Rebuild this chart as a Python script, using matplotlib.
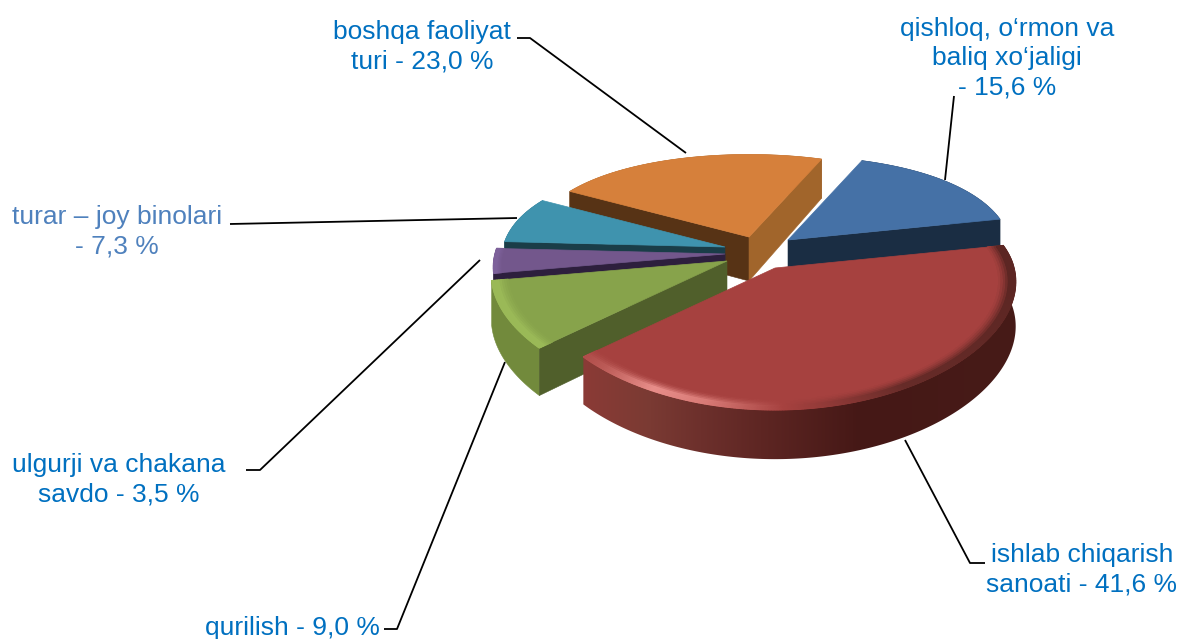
import numpy as np
import matplotlib
matplotlib.use("Agg")
import matplotlib.pyplot as plt
from matplotlib.colors import to_rgb
from matplotlib.patches import Polygon

plt.rcParams['font.family'] = ['Liberation Sans', 'DejaVu Sans']

# shares, clockwise from the first slice
names = ["qishloq", "ishlab", "qurilish", "ulgurji", "turar", "boshqa"]
values = [15.6, 41.6, 9.0, 3.5, 7.3, 23.0]

top_colors = ["#4571a6", "#a6413f", "#87a34b", "#73578c", "#3f93ae", "#d6803b"]
# None = that cut face looks away from the viewer
start_face = [None, None, "#505f2b", "#2d1f3d", "#1a3d48", "#573315"]
end_face = ["#1a2d43", None, None, None, None, "#a1652b"]
rim_colors = ["#1a2d43", "#481c1a", "#728a3c", "#5a4570", "#2c6a80", "#a1652b"]

# where each slice's tip ends up after exploding (pixels) and its radius
tips = [(788, 240), (775, 268), (727, 261), (725, 254), (725, 247), (749, 237)]
radius = [222, 239, 234, 230, 222, 218]
bevel = [0, 1, 1, 0.5, 0, 0]

START = 22.0
DEPTH = 44.0

# draw back slices first
order = [5, 0, 4, 3, 2, 1]

fig = plt.figure(figsize=(11.81, 6.39), dpi=100)
ax = fig.add_axes([0, 0, 1, 1])


def project(i, t, frac=1.0, drop=0.0):
    a = np.radians(t)
    s = 1 - 0.12 * np.cos(a)
    k = 0.48 - 0.05 * np.cos(a)
    r = radius[i] * frac * s
    d = drop * (1 - 0.12 * np.cos(a) * frac)
    return tips[i][0] + r * np.sin(a), tips[i][1] - k * r * np.cos(a) + d


def mix(c1, c2, w):
    a, b = np.array(to_rgb(c1)), np.array(to_rgb(c2))
    return tuple(a + (b - a) * w)


def ramp(v, stops, cols):
    rgb = np.array([to_rgb(c) for c in cols])
    return np.stack([np.interp(v, stops, rgb[:, j]) for j in range(3)], axis=-1)


def bevel_color(i, t):
    if i == 1:
        return tuple(ramp(t, [76, 100, 150, 178, 195, 208, 222, 234],
                          ["#5c2623", "#5c2623", "#662b28", "#a6413f", "#d87a76",
                           "#e88e8a", "#bb5a56", "#a6413f"]))
    if i == 2:
        return to_rgb("#9ab957")
    return to_rgb("#7d619a")


shares = np.array(values) / sum(values) * 360
edges = START + np.concatenate([[0], np.cumsum(shares)])

for z, i in enumerate(order):
    t0, t1 = edges[i], edges[i + 1]
    ts = np.linspace(t0, t1, max(int(t1 - t0) * 3, 8))
    zb = 2 + z

    # outer wall
    xs, ys = project(i, ts)
    xb, yb = project(i, ts, drop=DEPTH)
    wall = list(zip(xs, ys)) + list(zip(xb[::-1], yb[::-1]))
    if i == 1:
        # red wall changes shade from left to right
        gx = np.arange(560, 1040)
        grad = ramp(gx, [587, 650, 700, 760, 860, 1016],
                    ["#8a3a36", "#7a3a33", "#6d302c", "#5e2623", "#451816", "#471b18"])
        im = ax.imshow(grad[np.newaxis, :, :], extent=(560, 1040, 500, 200),
                       aspect="auto", zorder=zb)
        clip = Polygon(wall, transform=ax.transData, fc="none", ec="none")
        ax.add_patch(clip)
        im.set_clip_path(clip)
    else:
        ax.add_patch(Polygon(wall, fc=rim_colors[i], ec=rim_colors[i], lw=0.4, zorder=zb))

    # cut faces
    for t, col in ((t0, start_face[i]), (t1, end_face[i])):
        if col is None:
            continue
        ex, ey = project(i, t)
        bx, by = project(i, t, drop=DEPTH)
        tx, ty = tips[i]
        ax.add_patch(Polygon([(tx, ty), (ex, ey), (bx, by), (tx, ty + DEPTH)],
                             fc=col, ec=col, lw=0.4, zorder=zb))

    # top
    pts = [tips[i]] + list(zip(xs, ys))
    ax.add_patch(Polygon(pts, fc=top_colors[i], ec=top_colors[i], lw=0.5, zorder=zb))

    # rounded edge, inner ring first so each one covers the last seam
    if bevel[i] > 0:
        rings = np.linspace(1 - 0.07 * bevel[i], 1.0, 8)
        for r0, r1 in zip(rings[:-1], rings[1:]):
            w = min(1.0, ((r1 - rings[0]) / (rings[-1] - rings[0])) * 1.4) ** 1.5
            for a, b in zip(ts[:-1], ts[1:]):
                col = mix(top_colors[i], bevel_color(i, (a + b) / 2), w)
                pts = [project(i, a, r0), project(i, b, r0), project(i, b, r1), project(i, a, r1)]
                ax.add_patch(Polygon(pts, fc=col, ec=col, lw=0.9, zorder=zb))

# leader lines
leaders = [
    ([517, 530, 686], [38, 38, 153]),
    ([945, 954], [180, 96]),
    ([905, 970, 985], [440, 563, 563]),
    ([384, 397, 505], [629, 629, 362]),
    ([246, 260, 480], [470, 470, 260]),
    ([230, 517], [224, 218]),
]
for lx, ly in leaders:
    ax.plot(lx, ly, color="black", lw=1.3, zorder=1, solid_capstyle="butt")

BLUE = "#0070c0"
labels = [
    ("boshqa faoliyat\nturi - 23,0 %", 422, 47, BLUE),
    ("qishloq, o‘rmon va\nbaliq xo‘jaligi\n- 15,6 %", 1007, 58, BLUE),
    ("turar – joy binolari\n- 7,3 %", 117, 232, "#4f81bd"),
    ("ulgurji va chakana\nsavdo - 3,5 %", 119, 480, BLUE),
    ("ishlab chiqarish\nsanoati - 41,6 %", 1082, 570, BLUE),
    ("qurilish - 9,0 %", 292, 628, BLUE),
]
for txt, x, y, col in labels:
    ax.text(x, y, txt, color=col, fontsize=19, ha="center", va="center",
            linespacing=1.27, zorder=20)

ax.set_xlim(0, 1181)
ax.set_ylim(639, 0)
ax.axis("off")

fig.savefig("out.png", dpi=100, facecolor="white")
